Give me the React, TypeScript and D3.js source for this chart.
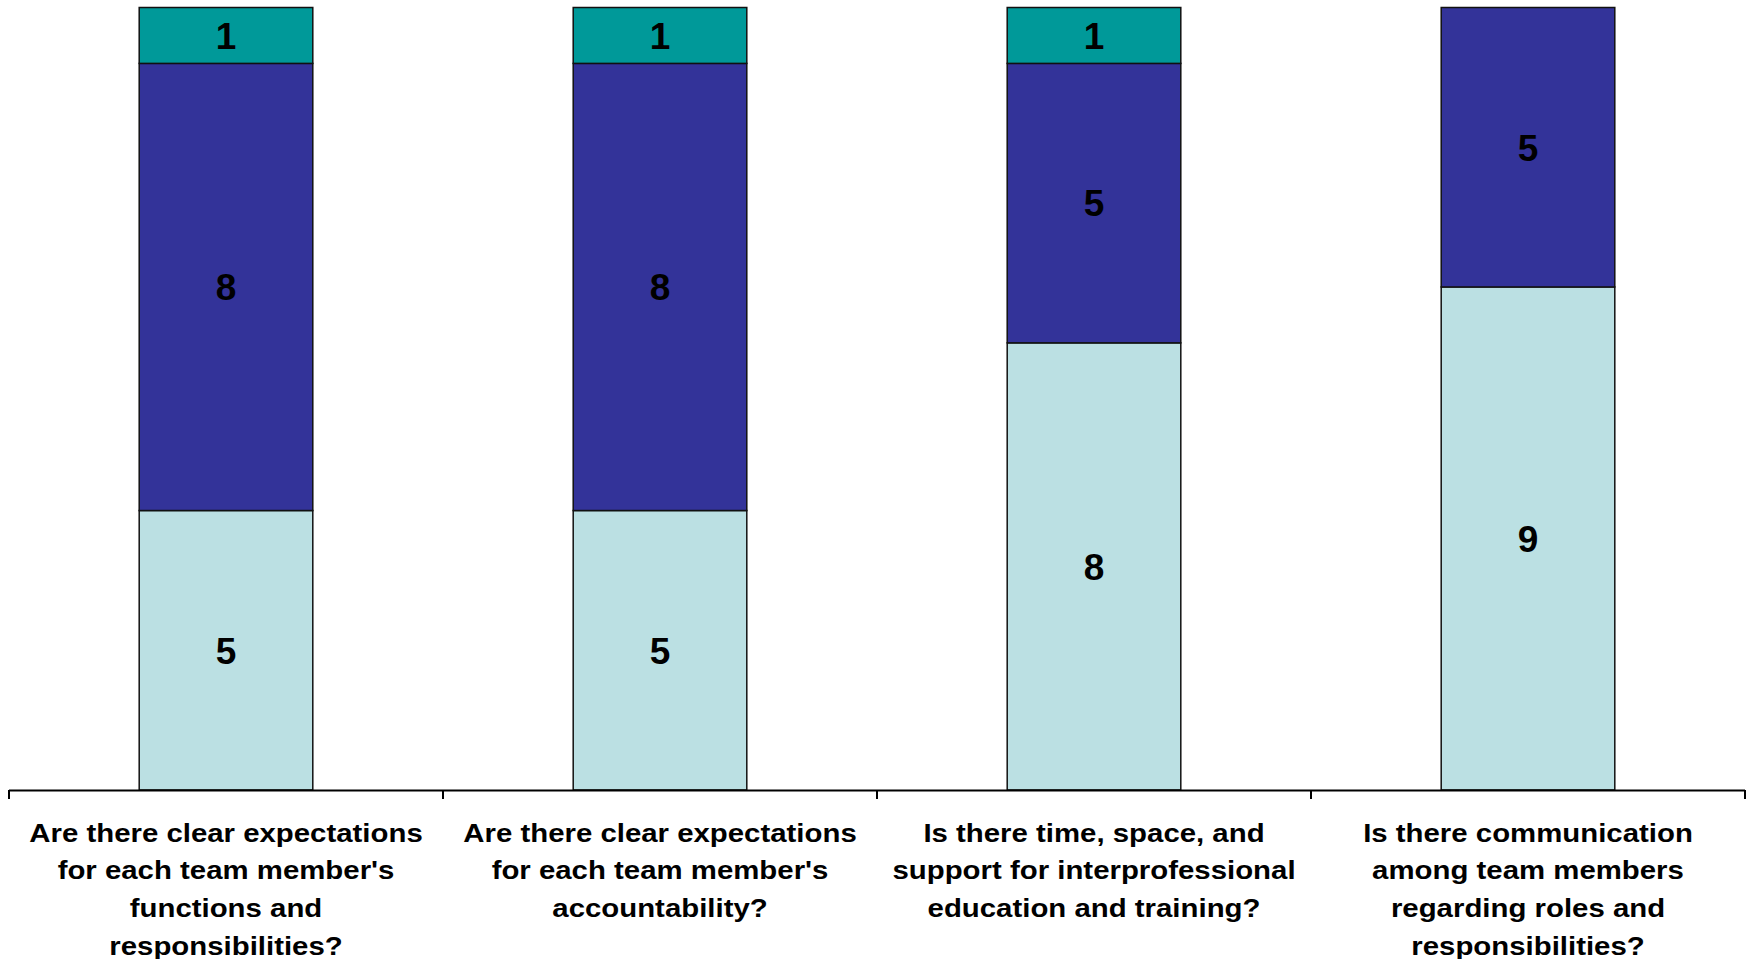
import React from "react";
import * as d3 from "d3";

const categories = [
  "Are there clear expectations for each team member's functions and responsibilities?",
  "Are there clear expectations for each team member's accountability?",
  "Is there time, space, and support for interprofessional education and training?",
  "Is there communication among team members regarding roles and responsibilities?",
];
const categoryLines = [
  ["Are there clear expectations", "for each team member's", "functions and", "responsibilities?"],
  ["Are there clear expectations", "for each team member's", "accountability?"],
  ["Is there time, space, and", "support for interprofessional", "education and training?"],
  ["Is there communication", "among team members", "regarding roles and", "responsibilities?"],
];
const seriesNames = ["Bottom", "Middle", "Top"];
const bottomValues = [5, 5, 8, 9];
const middleValues = [8, 8, 5, 5];
const topValues = [1, 1, 1, 0];
const seriesColors = ["#BBE0E3", "#333399", "#009999"];

const W = 1748;
const H = 959;

export default function App() {
  const x = d3.scaleBand<string>().domain(categories).range([9, 1745]).padding(0);
  const y = d3.scaleLinear().domain([0, 14]).range([790, 7.5]);
  const rows = categories.map((c, i) => ({
    cat: c,
    Bottom: bottomValues[i],
    Middle: middleValues[i],
    Top: topValues[i],
  }));
  const stack = d3.stack<any>().keys(seriesNames)(rows);
  const bw = x.bandwidth();
  const barW = bw * 0.4;
  const boundaries = [0, ...categories.map((_, i) => i + 1)].map((i) =>
    i < categories.length ? (x(categories[i]) as number) : (x(categories[categories.length - 1]) as number) + bw
  );
  const font = "'Liberation Sans', Arial, sans-serif";

  return (
    <svg width={W} height={H} style={{ position: "absolute", left: 0, top: 0, background: "#fff" }}>
      {stack.map((layer, si) => (
        <g key={si}>
          {layer.map((d, ci) => {
            const v = d[1] - d[0];
            if (v <= 0) return null;
            const cx = (x(categories[ci]) as number) + bw / 2;
            const y0 = y(d[0]);
            const y1 = y(d[1]);
            return (
              <g key={ci}>
                <rect
                  x={cx - barW / 2}
                  y={y1}
                  width={barW}
                  height={y0 - y1}
                  fill={seriesColors[si]}
                  stroke="#111"
                  strokeWidth={1.5}
                />
                <text
                  x={cx}
                  y={(y0 + y1) / 2}
                  dy="0.36em"
                  textAnchor="middle"
                  fontFamily={font}
                  fontWeight="bold"
                  fontSize={37}
                  fill="#000"
                >
                  {v}
                </text>
              </g>
            );
          })}
        </g>
      ))}
      <line x1={boundaries[0]} x2={boundaries[boundaries.length - 1]} y1={790.5} y2={790.5} stroke="#000" strokeWidth={2} />
      {boundaries.map((bx, i) => (
        <line key={i} x1={bx} x2={bx} y1={790} y2={799} stroke="#000" strokeWidth={2} />
      ))}
      {categoryLines.map((lines, ci) => {
        const cx = (x(categories[ci]) as number) + bw / 2;
        return (
          <g key={ci} transform={`translate(${cx},0) scale(1.13,1)`}>
            {lines.map((ln, li) => (
              <text
                key={li}
                x={0}
                y={841.7 + li * 37.7}
                textAnchor="middle"
                fontFamily={font}
                fontWeight="bold"
                fontSize={26}
                fill="#000"
              >
                {ln}
              </text>
            ))}
          </g>
        );
      })}
    </svg>
  );
}
